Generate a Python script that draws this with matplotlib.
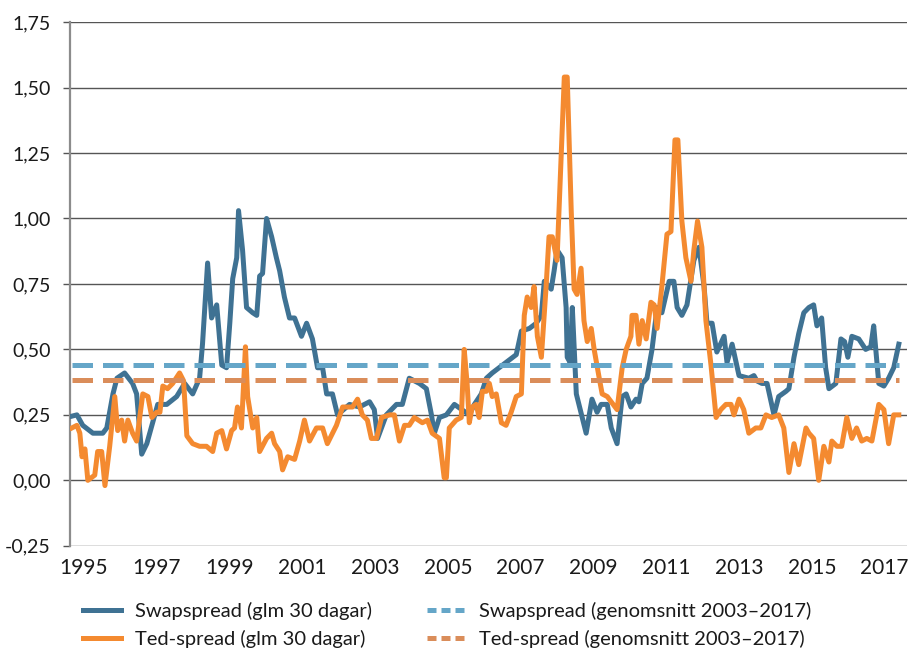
import numpy as np
import matplotlib
matplotlib.use("Agg")
import matplotlib.pyplot as plt
from matplotlib.lines import Line2D
from matplotlib.ticker import FuncFormatter

# Swapspread (glm 30 dagar)
swap_year = [1994.67, 1994.81, 1994.97, 1995.25, 1995.52, 1995.63, 1995.80, 1995.91, 1996.12, 1996.34,
             1996.45, 1996.59, 1996.73, 1996.89, 1997.03, 1997.28, 1997.55, 1997.77, 1997.99, 1998.18,
             1998.26, 1998.40, 1998.51, 1998.65, 1998.79, 1998.92, 1999.01, 1999.09, 1999.20, 1999.25,
             1999.36, 1999.47, 1999.64, 1999.75, 1999.83, 1999.91, 2000.02, 2000.16, 2000.29, 2000.38,
             2000.51, 2000.65, 2000.79, 2000.98, 2001.12, 2001.28, 2001.42, 2001.56, 2001.67, 2001.83,
             2001.97, 2002.30, 2002.57, 2002.85, 2002.98, 2003.07, 2003.31, 2003.59, 2003.75, 2003.94,
             2004.22, 2004.41, 2004.55, 2004.63, 2004.77, 2004.96, 2005.18, 2005.59, 2005.73, 2005.92,
             2006.06, 2006.22, 2006.41, 2006.60, 2006.88, 2007.02, 2007.24, 2007.43, 2007.57, 2007.65,
             2007.84, 2007.92, 2008.00, 2008.14, 2008.25, 2008.28, 2008.36, 2008.42, 2008.53, 2008.80,
             2008.96, 2009.10, 2009.21, 2009.38, 2009.49, 2009.65, 2009.79, 2009.90, 2010.03, 2010.17,
             2010.25, 2010.34, 2010.47, 2010.61, 2010.75, 2010.88, 2011.08, 2011.21, 2011.30, 2011.43,
             2011.57, 2011.76, 2011.90, 2012.04, 2012.12, 2012.26, 2012.39, 2012.59, 2012.67, 2012.81,
             2013.00, 2013.27, 2013.41, 2013.49, 2013.63, 2013.77, 2013.96, 2014.09, 2014.29, 2014.37,
             2014.51, 2014.64, 2014.78, 2014.92, 2015.05, 2015.14, 2015.27, 2015.38, 2015.47, 2015.66,
             2015.80, 2015.90, 2015.99, 2016.10, 2016.29, 2016.48, 2016.62, 2016.70, 2016.84, 2016.98,
             2017.11, 2017.25, 2017.39]
swap_val = [0.245, 0.25, 0.21, 0.18, 0.18, 0.20, 0.33, 0.39, 0.41, 0.37,
            0.33, 0.10, 0.14, 0.22, 0.29, 0.29, 0.32, 0.37, 0.33, 0.39,
            0.52, 0.83, 0.62, 0.67, 0.44, 0.43, 0.60, 0.77, 0.85, 1.03,
            0.88, 0.66, 0.64, 0.63, 0.78, 0.79, 1.00, 0.93, 0.85, 0.80,
            0.70, 0.62, 0.62, 0.55, 0.60, 0.54, 0.43, 0.43, 0.33, 0.33,
            0.25, 0.29, 0.28, 0.30, 0.27, 0.16, 0.25, 0.29, 0.29, 0.39,
            0.37, 0.35, 0.25, 0.18, 0.24, 0.25, 0.29, 0.25, 0.29, 0.33,
            0.39, 0.41, 0.43, 0.45, 0.48, 0.57, 0.58, 0.60, 0.63, 0.76,
            0.73, 0.80, 0.88, 0.85, 0.66, 0.47, 0.45, 0.66, 0.33, 0.18,
            0.31, 0.26, 0.29, 0.29, 0.20, 0.14, 0.32, 0.33, 0.28, 0.31,
            0.30, 0.37, 0.39, 0.50, 0.66, 0.64, 0.76, 0.76, 0.66, 0.63,
            0.67, 0.84, 0.89, 0.74, 0.60, 0.60, 0.49, 0.55, 0.45, 0.52,
            0.40, 0.39, 0.40, 0.38, 0.37, 0.37, 0.25, 0.32, 0.34, 0.35,
            0.47, 0.56, 0.64, 0.66, 0.67, 0.59, 0.62, 0.43, 0.35, 0.37,
            0.54, 0.53, 0.47, 0.55, 0.54, 0.50, 0.51, 0.59, 0.37, 0.36,
            0.39, 0.43, 0.52]

# Ted-spread (glm 30 dagar)
ted_year = [1994.67, 1994.81, 1994.89, 1994.95, 1995.03, 1995.11, 1995.30, 1995.38, 1995.49, 1995.58,
            1995.71, 1995.85, 1995.93, 1996.04, 1996.12, 1996.21, 1996.34, 1996.45, 1996.62, 1996.76,
            1996.87, 1997.00, 1997.09, 1997.17, 1997.30, 1997.44, 1997.63, 1997.74, 1997.83, 1997.99,
            1998.18, 1998.37, 1998.54, 1998.65, 1998.79, 1998.92, 1999.06, 1999.14, 1999.22, 1999.33,
            1999.44, 1999.50, 1999.64, 1999.75, 1999.83, 2000.02, 2000.16, 2000.24, 2000.38, 2000.46,
            2000.60, 2000.79, 2000.93, 2001.06, 2001.20, 2001.39, 2001.56, 2001.69, 2001.94, 2002.11,
            2002.38, 2002.52, 2002.65, 2002.79, 2002.90, 2003.04, 2003.18, 2003.40, 2003.53, 2003.67,
            2003.81, 2003.94, 2004.08, 2004.30, 2004.44, 2004.57, 2004.77, 2004.90, 2004.96, 2005.04,
            2005.23, 2005.37, 2005.45, 2005.53, 2005.59, 2005.67, 2005.78, 2005.86, 2005.95, 2006.06,
            2006.14, 2006.22, 2006.33, 2006.47, 2006.60, 2006.74, 2006.88, 2007.02, 2007.10, 2007.18,
            2007.29, 2007.37, 2007.46, 2007.57, 2007.70, 2007.78, 2007.87, 2008.00, 2008.11, 2008.20,
            2008.28, 2008.39, 2008.47, 2008.55, 2008.66, 2008.74, 2008.83, 2008.94, 2009.02, 2009.16,
            2009.24, 2009.38, 2009.65, 2009.79, 2009.90, 2010.03, 2010.06, 2010.17, 2010.25, 2010.34,
            2010.45, 2010.58, 2010.67, 2010.75, 2010.88, 2011.02, 2011.13, 2011.24, 2011.32, 2011.43,
            2011.54, 2011.68, 2011.76, 2011.86, 2011.98, 2012.09, 2012.23, 2012.37, 2012.50, 2012.64,
            2012.78, 2012.86, 2013.00, 2013.13, 2013.27, 2013.46, 2013.60, 2013.74, 2013.90, 2014.09,
            2014.23, 2014.37, 2014.51, 2014.64, 2014.84, 2014.92, 2015.05, 2015.19, 2015.33, 2015.47,
            2015.55, 2015.69, 2015.82, 2015.96, 2016.10, 2016.23, 2016.37, 2016.51, 2016.65, 2016.84,
            2016.98, 2017.11, 2017.25, 2017.39]
ted_val = [0.20, 0.21, 0.18, 0.09, 0.12, 0.00, 0.02, 0.11, 0.11, -0.02,
           0.13, 0.32, 0.19, 0.23, 0.15, 0.23, 0.18, 0.15, 0.33, 0.32,
           0.24, 0.26, 0.26, 0.36, 0.35, 0.37, 0.41, 0.38, 0.17, 0.14,
           0.13, 0.13, 0.11, 0.18, 0.19, 0.12, 0.19, 0.20, 0.28, 0.20,
           0.51, 0.32, 0.20, 0.24, 0.11, 0.16, 0.18, 0.14, 0.11, 0.04,
           0.09, 0.08, 0.15, 0.23, 0.15, 0.20, 0.20, 0.14, 0.21, 0.28,
           0.28, 0.31, 0.25, 0.23, 0.16, 0.16, 0.24, 0.25, 0.25, 0.15,
           0.21, 0.21, 0.24, 0.22, 0.23, 0.18, 0.16, 0.01, 0.01, 0.20,
           0.23, 0.24, 0.50, 0.37, 0.22, 0.28, 0.29, 0.24, 0.34, 0.34,
           0.37, 0.32, 0.33, 0.22, 0.21, 0.26, 0.32, 0.33, 0.63, 0.70,
           0.66, 0.74, 0.55, 0.47, 0.74, 0.93, 0.93, 0.84, 1.22, 1.54,
           1.54, 1.03, 0.73, 0.71, 0.81, 0.61, 0.53, 0.58, 0.50, 0.39,
           0.33, 0.32, 0.27, 0.43, 0.50, 0.55, 0.63, 0.63, 0.52, 0.61,
           0.54, 0.68, 0.67, 0.58, 0.74, 0.94, 0.95, 1.30, 1.30, 0.99,
           0.85, 0.76, 0.88, 0.99, 0.89, 0.61, 0.44, 0.24, 0.27, 0.29,
           0.29, 0.25, 0.31, 0.27, 0.18, 0.20, 0.20, 0.25, 0.24, 0.25,
           0.20, 0.03, 0.14, 0.06, 0.20, 0.18, 0.16, 0.00, 0.13, 0.07,
           0.15, 0.13, 0.13, 0.24, 0.16, 0.20, 0.15, 0.16, 0.15, 0.29,
           0.27, 0.14, 0.25, 0.25]

# genomsnitt 2003-2017
swap_avg = 0.44
ted_avg = 0.385

year_ticks = [1995, 1997, 1999, 2001, 2003, 2005, 2007, 2009, 2011, 2013, 2015, 2017]
y_ticks = [-0.25, 0.0, 0.25, 0.5, 0.75, 1.0, 1.25, 1.5, 1.75]

labels = ["Swapspread (glm 30 dagar)", "Ted-spread (glm 30 dagar)",
          "Swapspread (genomsnitt 2003\u20132017)", "Ted-spread (genomsnitt 2003\u20132017)"]

c_swap = "#3f7293"
c_ted = "#f48a30"
c_swap_avg = "#65a6c8"
c_ted_avg = "#da8d5a"

plt.rcParams['font.family'] = ['Lato', 'DejaVu Sans']

fig = plt.figure(figsize=(9.08, 6.49), dpi=100)
ax = fig.add_axes([0.0771, 0.159, 0.922, 0.807])

lw = 3.6
ax.plot(swap_year, swap_val, color=c_swap, lw=lw, solid_joinstyle='round', zorder=3)
ax.plot(ted_year, ted_val, color=c_ted, lw=lw, solid_joinstyle='round', zorder=3)
x0 = min(swap_year[0], ted_year[0])
x1 = max(swap_year[-1], ted_year[-1])
ax.plot([x0, x1], [swap_avg, swap_avg], color=c_swap_avg, lw=lw, dashes=(4.1, 2.0),
        dash_capstyle='butt', zorder=4)
ax.plot([x0, x1], [ted_avg, ted_avg], color=c_ted_avg, lw=lw, dashes=(4.1, 2.0),
        dash_capstyle='butt', zorder=4)

ax.set_xlim(1994.62, 2017.62)
ax.set_ylim(-0.25, 1.75)
ax.set_yticks(y_ticks)
ax.yaxis.set_major_formatter(FuncFormatter(lambda v, p: f"{v:.2f}".replace('.', ',')))
ax.set_xticks(year_ticks)
ax.set_xticklabels([str(y) for y in year_ticks])

ax.grid(axis='y', color='#555555', lw=1.0, zorder=1)
for s in ['top', 'right', 'bottom']:
    ax.spines[s].set_visible(False)
ax.spines['left'].set_color('#8c8c8c')
ax.spines['left'].set_linewidth(1.6)
ax.tick_params(axis='y', length=5, width=1.0, color='#555555', pad=9, labelsize=14, labelcolor='#1a1a1a')
ax.tick_params(axis='x', length=0, pad=9, labelsize=15, labelcolor='#1a1a1a')

handles = [Line2D([], [], color=c_swap, lw=3.6),
           Line2D([], [], color=c_ted, lw=3.6),
           Line2D([], [], color=c_swap_avg, lw=3.6, dashes=(1.8, 1.0), dash_capstyle='butt'),
           Line2D([], [], color=c_ted_avg, lw=3.6, dashes=(1.8, 1.0), dash_capstyle='butt')]
fig.legend(handles, labels, loc='lower left', bbox_to_anchor=(0.071, -0.026), ncol=2,
           frameon=False, fontsize=14.5, handlelength=1.9, handletextpad=0.68,
           columnspacing=2.75, labelspacing=0.5, labelcolor='#1a1a1a')

fig.savefig("out.png", dpi=100)
